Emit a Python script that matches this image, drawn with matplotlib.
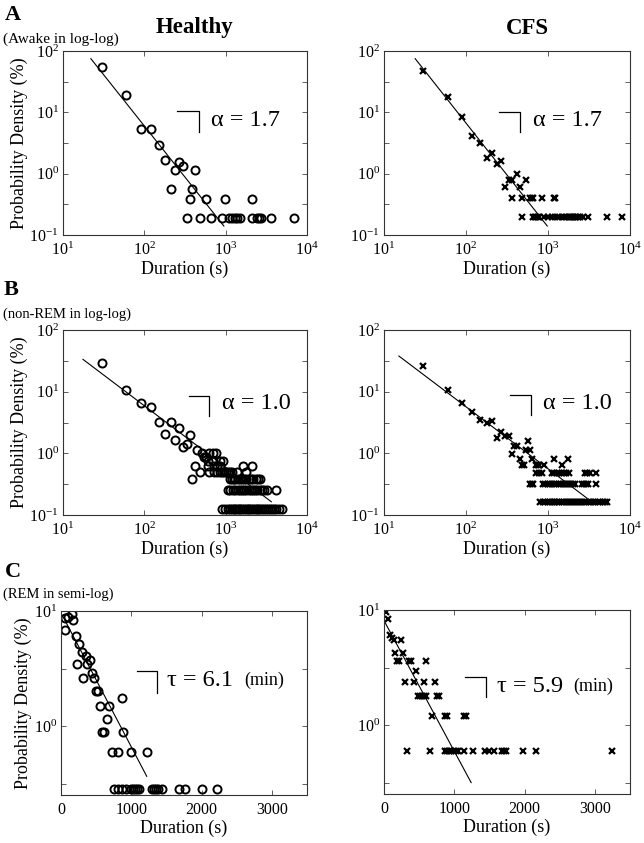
import numpy as np
import matplotlib
matplotlib.use("Agg")
import matplotlib.pyplot as plt
from matplotlib.ticker import FixedLocator, NullLocator

plt.rcParams['font.family'] = ['Liberation Serif', 'DejaVu Serif']
plt.rcParams['mathtext.fontset'] = 'custom'
plt.rcParams['mathtext.rm'] = 'Liberation Serif'
plt.rcParams['mathtext.it'] = 'Liberation Serif:italic'
plt.rcParams['mathtext.bf'] = 'Liberation Serif:bold'

# ---- A: Awake, log-log ----
ah_x = [30, 60, 90, 120, 150, 180, 210, 240, 270, 300, 360, 390, 420, 570, 990, 2100]
ah_y = [55, 18.9, 5.4, 5.4, 2.9, 1.7, 0.57, 1.13, 1.55, 1.33, 0.38, 0.57, 1.13, 0.38, 0.38, 0.38]
ah_levels = [0.19]
ah_rows = [[330, 480, 660, 900, 1110, 1200, 1290, 1380, 1500, 2100, 2430, 2580, 2700, 3630, 6840]]
ah_fit_x = [22, 950]
ah_fit_y = [75, 0.14]

ac_x = [30, 60, 90, 120, 150, 180, 210, 240, 270, 300, 330, 360, 420, 450, 540]
ac_y = [47, 17.8, 8.4, 4.1, 3.2, 1.8, 2.2, 1.44, 1.6, 0.6, 0.8, 0.8, 1.0, 0.6, 0.8]
ac_levels = [0.4, 0.2]
ac_rows = [[360, 480, 600, 630, 660, 840, 1170, 1230],
           [480, 660, 690, 720, 750, 780, 900, 990, 1110, 1230, 1320, 1470, 1560, 1680,
            1800, 1860, 1950, 2040, 2130, 2220, 2340, 2460, 2700, 3060, 5250, 8100]]
ac_fit_x = [24, 980]
ac_fit_y = [75, 0.14]

# ---- B: non-REM, log-log ----
bh_x = [30, 60, 90, 120, 150, 180, 210, 240, 270, 300, 330, 360, 450, 510, 540, 570, 630, 690, 750]
bh_y = [29.5, 10.6, 6.6, 5.6, 3.27, 2.03, 3.27, 1.64, 2.54, 1.28, 1.4, 1.96, 1.13, 1.0, 0.88, 0.88, 1.0, 1.0, 1.0]
bh_levels = [0.76, 0.63, 0.5, 0.38, 0.25, 0.126]
bh_rows = [[600, 690, 840, 930],
           [420, 600, 720, 780, 840, 1650, 2100],
           [480, 630, 720, 780, 840, 900, 960, 1020, 1080, 1140, 1200, 1380, 1800],
           [390, 1140, 1200, 1260, 1320, 1410, 1500, 1590, 1680, 1800, 1920, 2040, 2190, 2340, 2490, 2640],
           [1080, 1140, 1230, 1320, 1410, 1500, 1590, 1680, 1800, 1920, 2040, 2160, 2310, 2460,
            2610, 2790, 3000, 3240, 4170],
           [900, 990, 1080, 1140, 1200, 1260, 1320, 1380, 1440, 1500, 1590, 1680, 1770, 1860, 1950,
            2040, 2160, 2280, 2400, 2520, 2640, 2790, 2940, 3120, 3300, 3480, 3690, 3900, 4200, 4500, 4860]]
bh_fit_x = [17.6, 3640]
bh_fit_y = [33.4, 0.164]

bc_x = [30, 60, 90, 120, 150, 180, 210, 240, 270, 300, 330, 360, 390, 420, 450, 540, 570, 600, 630, 1200, 1500, 1770]
bc_y = [26, 10.6, 6.6, 4.6, 3.5, 3.1, 3.3, 1.75, 2.24, 1.91, 1.91, 0.96, 1.33, 1.33, 0.8, 1.13, 1.6, 1.13, 0.8, 0.8, 0.65, 0.8]
bc_levels = [0.64, 0.48, 0.32, 0.16]
bc_rows = [[480, 510, 720, 750, 780, 900],
           [720, 780, 840, 1110, 1200, 1290, 1380, 1470, 1560, 1680, 1800, 2820, 3000, 3240, 3900],
           [600, 630, 660, 870, 930, 990, 1050, 1110, 1170, 1260, 1350, 1440, 1530, 1620, 1710,
            1800, 1920, 2040, 2160, 2580, 2760, 2940, 3090, 3900],
           [810, 870, 930, 990, 1050, 1110, 1170, 1230, 1290, 1380, 1470, 1560, 1650, 1740, 1830,
            1950, 2070, 2190, 2310, 2460, 2610, 2760, 2940, 3120, 3300, 3510, 3750, 4020, 4290,
            4620, 4950, 5310]]
bc_fit_x = [15.2, 3010]
bc_fit_y = [37.8, 0.186]

# ---- C: REM, semi-log ----
ch_x = [50, 60, 100, 150, 175, 210, 230, 260, 295, 320, 355, 375, 410, 435, 470, 500, 520, 555,
        590, 615, 650, 685, 865, 885]
ch_y = [6.8, 8.7, 8.9, 9.5, 8.3, 6.1, 3.5, 5.2, 4.4, 2.65, 4.1, 3.5, 3.8, 2.9, 2.65, 2.03, 2.03,
        1.49, 0.89, 0.89, 1.16, 1.49, 1.76, 0.89]
ch_levels = [0.6, 0.29]
ch_rows = [[720, 810, 990, 1230],
           [750, 810, 870, 930, 990, 1020, 1050, 1080, 1110, 1290, 1320, 1350, 1380, 1440,
            1680, 1770, 2010, 2220]]
ch_fit_x = [30, 1220]
ch_fit_y = [8.9, 0.37]

cc_x = [30, 60, 90, 120, 140, 240, 150, 270, 180, 210, 360, 390, 600, 450]
cc_y = [9.7, 8.3, 6.1, 5.7, 5.5, 5.5, 4.25, 4.25, 3.6, 3.6, 3.6, 3.6, 3.6, 2.97]
cc_levels = [2.38, 1.8, 1.2, 0.6]
cc_rows = [[300, 420, 570, 720],
           [480, 510, 540, 570, 600, 750, 780],
           [690, 870, 900, 1140, 1170],
           [330, 660, 870, 900, 930, 960, 990, 1020, 1050, 1140, 1260, 1440, 1500, 1560,
            1680, 1710, 1740, 1980, 2160, 3240]]
cc_fit_x = [0, 1240]
cc_fit_y = [8.1, 0.32]

W, H = 644, 843
fig = plt.figure(figsize=(W / 100, H / 100), dpi=100)


def box(l, t, r, b):
    return [l / W, 1 - b / H, (r - l) / W, (b - t) / H]


def panel(rect, xs, ys, levels, rows, fx, fy, marker, semilog=False, ylabel=True):
    ax = fig.add_axes(rect)
    if marker == 'o':
        kw = dict(marker='o', ms=5.8, mfc='none', mec='black', mew=1.4, ls='none')
    else:
        kw = dict(marker='x', ms=4.5, mec='black', mew=1.6, ls='none')
    ax.plot(xs, ys, **kw)
    for lev, row in zip(levels, rows):
        ax.plot(row, np.full(len(row), lev), **kw)
    ax.plot(fx, fy, color='black', lw=0.8)
    ax.set_yscale('log')
    if semilog:
        ax.set_xlim(0, 3500)
        ax.set_ylim(0.255, 10)
        ax.set_xticks([0, 1000, 2000, 3000])
        ax.set_yticks([1, 10])
        ax.yaxis.set_minor_locator(FixedLocator([10 ** -0.5, 10 ** 0.5]))
    else:
        ax.set_xscale('log')
        ax.set_xlim(10, 1e4)
        ax.set_ylim(0.1, 100)
        ax.set_xticks([10, 100, 1000, 10000])
        ax.set_yticks([0.1, 1, 10, 100])
        ax.xaxis.set_minor_locator(NullLocator())
        ax.yaxis.set_minor_locator(FixedLocator([10 ** -0.5, 10 ** 0.5, 10 ** 1.5]))
    ax.yaxis.set_minor_formatter(plt.NullFormatter())
    ax.tick_params(which='both', direction='in', top=True, right=True, labelsize=11.5,
                   width=0.6, color='#444444', length=3.5)
    ax.tick_params(axis='x', pad=5)
    ax.tick_params(axis='y', pad=3)
    for s in ax.spines.values():
        s.set_linewidth(0.8)
        s.set_color('#333333')
    ax.set_xlabel('Duration (s)', fontsize=13, labelpad=1)
    if ylabel:
        ax.set_ylabel('Probability Density (%)', fontsize=13, labelpad=1)
    return ax


def slope(ax, x0, x1, y0, y1, tx, ty, label, unit=None, ux=None):
    ax.plot([x0, x1, x1], [y0, y0, y1], color='black', lw=0.9, transform=ax.transAxes)
    ax.text(tx, ty, label, transform=ax.transAxes, fontsize=17.5, va='center', ha='left')
    if unit:
        ax.text(ux, ty, unit, transform=ax.transAxes, fontsize=13, va='center', ha='left')


ax = panel(box(63, 51, 307, 235), ah_x, ah_y, ah_levels, ah_rows, ah_fit_x, ah_fit_y, 'o')
slope(ax, 0.467, 0.557, 0.672, 0.56, 0.605, 0.625, 'α = 1.7')
ax = panel(box(384, 51, 630, 235), ac_x, ac_y, ac_levels, ac_rows, ac_fit_x, ac_fit_y, 'x', ylabel=False)
slope(ax, 0.467, 0.553, 0.668, 0.56, 0.605, 0.625, 'α = 1.7')

ax = panel(box(63, 330, 307, 515), bh_x, bh_y, bh_levels, bh_rows, bh_fit_x, bh_fit_y, 'o')
slope(ax, 0.516, 0.598, 0.645, 0.535, 0.65, 0.605, 'α = 1.0')
ax = panel(box(384, 330, 630, 515), bc_x, bc_y, bc_levels, bc_rows, bc_fit_x, bc_fit_y, 'x', ylabel=False)
slope(ax, 0.512, 0.598, 0.649, 0.541, 0.645, 0.605, 'α = 1.0')

ax = panel(box(61, 611, 307, 795), ch_x, ch_y, ch_levels, ch_rows, ch_fit_x, ch_fit_y, 'o', semilog=True)
slope(ax, 0.309, 0.39, 0.674, 0.554, 0.43, 0.625, 'τ = 6.1', '(min)', 0.745)
ax = panel(box(384, 610, 630, 794), cc_x, cc_y, cc_levels, cc_rows, cc_fit_x, cc_fit_y, 'x', semilog=True, ylabel=False)
slope(ax, 0.329, 0.415, 0.636, 0.527, 0.458, 0.584, 'τ = 5.9', '(min)', 0.768)

# panel letters, subtitles and column titles
fig.text(5 / W, 1 - 15 / H, 'A', fontsize=16, fontweight='bold', va='center')
fig.text(3 / W, 1 - 39 / H, '(Awake in log-log)', fontsize=11, va='center')
fig.text(4 / W, 1 - 290 / H, 'B', fontsize=16, fontweight='bold', va='center')
fig.text(3 / W, 1 - 314 / H, '(non-REM in log-log)', fontsize=10.5, va='center')
fig.text(5 / W, 1 - 572 / H, 'C', fontsize=16, fontweight='bold', va='center')
fig.text(3 / W, 1 - 594 / H, '(REM in semi-log)', fontsize=10.5, va='center')
fig.text(195 / W, 1 - 28 / H, 'Healthy', fontsize=16.5, fontweight='bold', ha='center', va='center')
fig.text(527 / W, 1 - 28 / H, 'CFS', fontsize=16.5, fontweight='bold', ha='center', va='center')

fig.savefig('out.png', dpi=100)
